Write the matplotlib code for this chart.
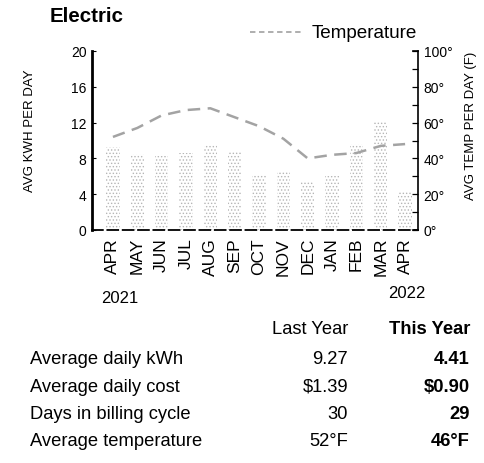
import numpy as np
import matplotlib
matplotlib.use('Agg')
import matplotlib.pyplot as plt

plt.rcParams['font.family'] = ['Liberation Sans', 'DejaVu Sans']
plt.rcParams['hatch.linewidth'] = 0.6

# monthly values
months = ['APR', 'MAY', 'JUN', 'JUL', 'AUG', 'SEP', 'OCT', 'NOV', 'DEC', 'JAN', 'FEB', 'MAR', 'APR']
kwh = [9.27, 8.5, 8.3, 8.6, 9.5, 8.7, 6.1, 6.5, 5.5, 6.0, 9.6, 12.2, 4.41]
temp = [52, 57, 64, 67, 68, 63, 58, 51, 40, 42, 43, 47, 48]

row_labels = ['Average daily kWh', 'Average daily cost', 'Days in billing cycle', 'Average temperature']
last_year = ['9.27', '$1.39', '30', '52°F']
this_year = ['4.41', '$0.90', '29', '46°F']

W, H = 485, 464
fig = plt.figure(figsize=(W / 100, H / 100), dpi=100)

def fx(px):
    return px / W

def fy(py):
    return 1 - py / H

ax = fig.add_axes([fx(92), fy(231), fx(418 - 92), (231 - 52) / H])
x = np.arange(len(months))

# stippled bars
ax.bar(x, kwh, width=0.55, facecolor='white', edgecolor='#b5b5b5', hatch='.....', linewidth=0)
ax.set_xlim(-0.86, 12.53)
ax.set_ylim(0, 20)
ax.set_yticks([0, 4, 8, 12, 16, 20])
ax.tick_params(axis='y', direction='in', length=3, width=0.8, labelsize=10, pad=4)
ax.set_xticks(x)
ax.set_xticklabels(months, rotation=90, fontsize=12.5)
ax.tick_params(axis='x', length=0, pad=5)
for s in ['top', 'right']:
    ax.spines[s].set_visible(False)
ax.spines['left'].set_linewidth(2)
ax.spines['bottom'].set_linewidth(1.3)
ax.spines['bottom'].set_linestyle((0, (6, 2.5)))

# temperature on right axis
ax2 = ax.twinx()
ax2.plot(x, temp, color='#a3a3a3', lw=1.8, dashes=(5, 3))
ax2.set_ylim(0, 100)
ax2.set_yticks(np.arange(0, 101, 10))
ax2.set_yticklabels([('%d°' % v) if v % 20 == 0 else '' for v in range(0, 101, 10)])
ax2.tick_params(axis='y', direction='in', length=4, width=0.9, labelsize=10, pad=4)
for s in ['top', 'left', 'bottom']:
    ax2.spines[s].set_visible(False)
ax2.spines['right'].set_linewidth(1.2)
ax2.plot([12.33, 12.53], [100, 100], color='black', lw=1.2, clip_on=False)
ax2.plot([12.33, 12.53], [0, 0], color='black', lw=1.2, clip_on=False)

# axis labels
fig.text(fx(30), fy(131), 'AVG KWH PER DAY', rotation=90, ha='center', va='center', fontsize=9.5)
fig.text(fx(471), fy(126), 'AVG TEMP PER DAY (F)', rotation=90, ha='center', va='center', fontsize=9.5)

# title and legend
fig.text(fx(50), fy(16), 'Electric', fontsize=14.8, fontweight='bold', va='center')
fig.add_artist(plt.Line2D([fx(250), fx(302)], [fy(33), fy(33)], color='#a8a8a8', lw=1.3, dashes=(3, 2)))
fig.text(fx(312), fy(33), 'Temperature', fontsize=13.6, va='center')

# years
fig.text(fx(120), fy(299), '2021', fontsize=12, ha='center', va='center')
fig.text(fx(407), fy(293), '2022', fontsize=12, ha='center', va='center')

# summary table
fs = 13.2
fig.text(fx(348), fy(330), 'Last Year', fontsize=fs, ha='right', va='center')
fig.text(fx(470), fy(330), 'This Year', fontsize=fs, ha='right', va='center', fontweight='bold')
for i in range(len(row_labels)):
    yy = fy(360 + i * 27.3)
    fig.text(fx(30), yy, row_labels[i], fontsize=fs, va='center')
    fig.text(fx(348), yy, last_year[i], fontsize=fs, ha='right', va='center')
    fig.text(fx(470), yy, this_year[i], fontsize=fs, ha='right', va='center', fontweight='bold')

fig.savefig('out.png', dpi=100)
